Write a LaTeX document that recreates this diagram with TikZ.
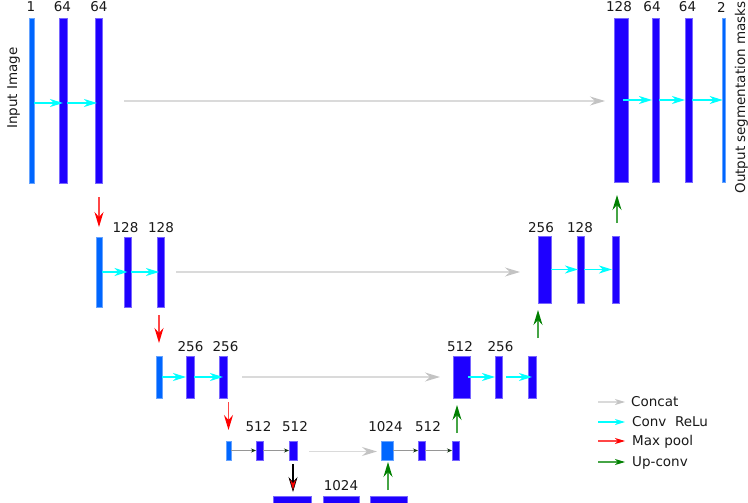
\documentclass[tikz,border=0pt]{standalone}
\usepackage{fontspec}
\setmainfont{DejaVu Sans}
\usetikzlibrary{arrows.meta,calc}
\definecolor{barblue}{RGB}{30,0,255}
\definecolor{lightbar}{RGB}{0,102,255}
\definecolor{convcyan}{RGB}{0,255,255}
\definecolor{concatshaft}{RGB}{218,218,218}
\definecolor{concathead}{RGB}{195,195,195}
\definecolor{poolshaft}{RGB}{255,70,70}
\definecolor{poolhead}{RGB}{255,0,0}
\definecolor{upshaft}{RGB}{70,165,70}
\definecolor{uphead}{RGB}{0,128,0}
\definecolor{smallshaft}{RGB}{150,150,150}
\definecolor{smallhead}{RGB}{20,50,20}
\begin{document}
\begin{tikzpicture}[x=1pt,y=-1pt,
  bar/.style={fill=barblue, draw=barblue!60!white, line width=0.5pt, inner sep=0pt, outer sep=0pt},
  lbar/.style={fill=lightbar, draw=lightbar!60!white, line width=0.5pt, inner sep=0pt, outer sep=0pt},
  dims/.style 2 args={minimum width=#1, minimum height=#2},
  lbl/.style={font=\fontsize{13.5}{16}\selectfont, inner sep=0pt, text=black!90},
  conv/.style={draw=convcyan, line width=1.4pt, -{Stealth[length=13pt,width=8pt,inset=4pt,color=convcyan]}},
  concat/.style={draw=concatshaft, line width=1.4pt, -{Stealth[length=15pt,width=9pt,inset=5pt,color=concathead]}},
  pool/.style={draw=poolshaft, line width=1.3pt, -{Stealth[length=15pt,width=9pt,inset=5pt,color=poolhead]}},
  upconv/.style={draw=upshaft, line width=1.3pt, -{Stealth[length=15pt,width=9pt,inset=5pt,color=uphead]}},
  smallarr/.style={draw=smallshaft, line width=1pt, -{Stealth[length=5pt,width=4pt,color=smallhead]}},
  downarr/.style={draw=black, line width=1.2pt, -{Stealth[length=15pt,width=9pt,inset=5pt,color=black,fill=poolhead,line width=0.6pt]}},
  legconv/.style={draw=convcyan, line width=1.3pt, -{Stealth[length=10pt,width=6pt,inset=3pt,color=convcyan]}},
  legconcat/.style={draw=concatshaft, line width=1.3pt, -{Stealth[length=10pt,width=6pt,inset=3pt,color=concathead]}},
  legpool/.style={draw=poolshaft, line width=1.1pt, -{Stealth[length=10pt,width=6pt,inset=3pt,color=poolhead]}},
  legup/.style={draw=upshaft, line width=1.1pt, -{Stealth[length=10pt,width=6pt,inset=3pt,color=uphead]}}
]
\useasboundingbox (0,0) rectangle (748,503);

% ---------- level 1 left
\node[lbar, dims={5pt}{165pt}] (a1) at (31.5,100.5) {};
\node[bar, dims={8pt}{165pt}] (a2) at (63,100.5) {};
\node[bar, dims={7pt}{165pt}] (a3) at (98.5,101) {};
% level 1 right
\node[bar, dims={14pt}{164pt}] (r1) at (621,100) {};
\node[bar, dims={7pt}{164pt}] (r2) at (655.5,100) {};
\node[bar, dims={7pt}{164pt}] (r3) at (688.5,100) {};
\node[lbar, dims={2.6pt}{164pt}] (r4) at (724,100) {};
% level 2 left
\node[lbar, dims={6pt}{70pt}] (b1) at (99,272) {};
\node[bar, dims={7pt}{70pt}] (b2) at (127.5,272) {};
\node[bar, dims={7pt}{70pt}] (b3) at (160.5,272) {};
% level 2 right
\node[bar, dims={13pt}{67pt}] (s1) at (544.5,269.5) {};
\node[bar, dims={7pt}{67pt}] (s2) at (580.5,269.5) {};
\node[bar, dims={7pt}{67pt}] (s3) at (615.5,269.5) {};
% level 3 left
\node[lbar, dims={6pt}{42pt}] (c1) at (159,377) {};
\node[bar, dims={8pt}{42pt}] (c2) at (190,377) {};
\node[bar, dims={8pt}{42pt}] (c3) at (223,377) {};
% level 3 right
\node[bar, dims={17pt}{42pt}] (t1) at (461.5,377) {};
\node[bar, dims={7pt}{42pt}] (t2) at (498.5,377) {};
\node[bar, dims={8pt}{42pt}] (t3) at (532,377) {};
% level 4
\node[lbar, dims={5pt}{19pt}] (d1) at (228.5,450.5) {};
\node[bar, dims={7pt}{19pt}] (d2) at (259.5,450.5) {};
\node[bar, dims={8pt}{19pt}] (d3) at (293,450.5) {};
\node[lbar, dims={12pt}{19pt}] (d4) at (387,450.5) {};
\node[bar, dims={7pt}{19pt}] (d5) at (421.5,450.5) {};
\node[bar, dims={7pt}{19pt}] (d6) at (455.5,450.5) {};
% bottom
\node[bar, dims={38pt}{7pt}] (e1) at (292,499.5) {};
\node[bar, dims={36pt}{7pt}] (e2) at (341,499.5) {};
\node[bar, dims={37pt}{7pt}] (e3) at (388.5,499.5) {};

% ---------- labels
\node[lbl] (la1) at (31,7) {1};
\node[lbl] (la2) at (62.5,7) {64};
\node[lbl] (la3) at (99,7) {64};
\node[lbl] (lr1) at (619,7) {128};
\node[lbl] (lr2) at (652,7) {64};
\node[lbl] (lr3) at (687.5,7) {64};
\node[lbl] (lr4) at (721.5,7) {2};
\node[lbl] (lb2) at (125.5,228) {128};
\node[lbl] (lb3) at (161,228) {128};
\node[lbl] (ls1) at (541,227.5) {256};
\node[lbl] (ls2) at (580,227.5) {128};
\node[lbl] (lc2) at (190.5,347) {256};
\node[lbl] (lc3) at (225.5,347) {256};
\node[lbl] (lt1) at (460,347) {512};
\node[lbl] (lt2) at (500.5,347) {256};
\node[lbl] (ld2) at (258.5,426.5) {512};
\node[lbl] (ld3) at (295,426.5) {512};
\node[lbl] (ld4) at (385.5,426.5) {1024};
\node[lbl] (ld5) at (428,426.5) {512};
\node[lbl] (le2) at (341,485.5) {1024};
\node[lbl, rotate=90, anchor=base] (inp) at (17,88) {Input Image};
\node[lbl, rotate=90, anchor=base] (outp) at (745,97.5) {Output segmentation masks};

% ---------- concat arrows
\draw[concat] ($(a3.east)+(22,0)$) -- ($(a3.east -| r1.west)+(-9,0)$);
\draw[concat] ($(b3.east)+(12,0)$) -- ($(b3.east -| s1.west)+(-18,0)$);
\draw[concat] ($(c3.east)+(15,0)$) -- ($(c3.east -| t1.west)+(-13,0)$);
\draw[concat] ($(d3.east)+(12,1)$) -- ($(d3.east -| d4.west)+(-4,1)$);

% ---------- conv arrows
\draw[conv] ($(a1.east)+(0,2.5)$) -- ($(a2.center)+(0,2.5)$);
\draw[conv] ($(a2.east)+(0,2.5)$) -- ($(a3.west)+(2,2)$);
\draw[conv] ($(r1.center)+(2,0)$) -- (r2.west);
\draw[conv] (r2.east) -- (r3.west);
\draw[conv] (r3.east) -- (r4.west);
\draw[conv] (b1.east) -- (b2.center);
\draw[conv] (b2.east) -- ($(b3.west)+(2,0)$);
\draw[conv] (s1.east) -- ($(s2.west)+(1,0)$);
\draw[conv] (s2.east) -- (s3.west);
\draw[conv] (c1.east) -- (c2.west);
\draw[conv] (c2.east) -- (c3.center);
\draw[conv] ($(t1.east)+(-2,0)$) -- (t2.west);
\draw[conv] ($(t2.east)+(4,0)$) -- ($(t3.west)+(4,0)$);
\draw[smallarr] (d1.east) -- (d2.west);
\draw[smallarr] (d2.east) -- (d3.west);
\draw[smallarr] (d4.east) -- (d5.west);
\draw[smallarr] (d5.east) -- (d6.west);

% ---------- max pool arrows
\draw[pool] ($(b1.north |- a3.south)+(0,13.5)$) -- ($(b1.north)+(0,-10)$);
\draw[pool] ($(c1.north |- b3.south)+(0,8)$) -- ($(c1.north)+(0,-13)$);
\draw[pool] ($(d1.north |- c3.south)+(0,4)$) -- ($(d1.north)+(0,-11)$);
\draw[downarr] ($(d3.south)+(0,4)$) -- ($(d3.south |- e1.north)+(0,-4)$);

% ---------- up-conv arrows
\draw[upconv] ($(s3.north)+(1.5,-13)$) -- ($(s3.north |- r1.south)+(1.5,13)$);
\draw[upconv] ($(s1.south west |- t3.north)+(0,-18)$) -- ($(s1.south west)+(0,7)$);
\draw[upconv] ($(d6.north)+(1.5,-8)$) -- ($(d6.north |- t1.south)+(1.5,7)$);
\draw[upconv] ($(d4.south |- e3.north)+(1,-6)$) -- ($(d4.south)+(1,2)$);

% ---------- legend
\coordinate (g1s) at (598,402); \coordinate (g1e) at (625,402);
\coordinate (g2s) at (598,422); \coordinate (g2e) at (625,422);
\coordinate (g3s) at (598,441); \coordinate (g3e) at (625,441);
\coordinate (g4s) at (598,462); \coordinate (g4e) at (625,462);
\draw[legconcat] (g1s) -- (g1e);
\draw[legconv] (g2s) -- (g2e);
\draw[legpool] (g3s) -- (g3e);
\draw[legup] (g4s) -- (g4e);
\node[lbl, anchor=base west] (t_concat) at (631,406.5) {Concat};
\node[lbl, anchor=base west] (t_conv) at (632,426.5) {Conv\ \ ReLu};
\node[lbl, anchor=base west] (t_pool) at (632,445.5) {Max pool};
\node[lbl, anchor=base west] (t_up) at (632,466.5) {Up-conv};
\end{tikzpicture}
\end{document}
